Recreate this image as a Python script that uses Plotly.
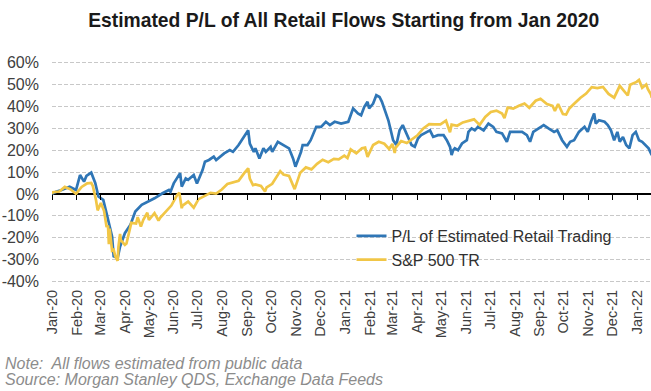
import plotly.graph_objects as go

# ---------------- data (% return since Jan 2020) ----------------
retail_dates = [
    "2020-01-01", "2020-01-06", "2020-01-13", "2020-01-23", "2020-01-31", "2020-02-05", "2020-02-10",
    "2020-02-13", "2020-02-19", "2020-02-24", "2020-02-28", "2020-03-05", "2020-03-09", "2020-03-16",
    "2020-03-18", "2020-03-23", "2020-03-26", "2020-04-01", "2020-04-08", "2020-04-14", "2020-04-22",
    "2020-05-01", "2020-05-08", "2020-05-18", "2020-05-26", "2020-05-28", "2020-06-01", "2020-06-09",
    "2020-06-11", "2020-06-16", "2020-06-19", "2020-06-26", "2020-06-30", "2020-07-07", "2020-07-10",
    "2020-07-15", "2020-07-21", "2020-07-24", "2020-08-03", "2020-08-10", "2020-08-14", "2020-08-21",
    "2020-08-26", "2020-09-02", "2020-09-04", "2020-09-09", "2020-09-11", "2020-09-16", "2020-09-21",
    "2020-09-24", "2020-09-30", "2020-10-02", "2020-10-09", "2020-10-16", "2020-10-23", "2020-10-28",
    "2020-10-31", "2020-11-07", "2020-11-09", "2020-11-15", "2020-11-19", "2020-11-26", "2020-12-02",
    "2020-12-08", "2020-12-13", "2020-12-19", "2020-12-27", "2021-01-05", "2021-01-09", "2021-01-11",
    "2021-01-17", "2021-01-21", "2021-01-25", "2021-01-29", "2021-01-31", "2021-02-05", "2021-02-09",
    "2021-02-13", "2021-02-16", "2021-02-19", "2021-02-24", "2021-02-26", "2021-03-02", "2021-03-06",
    "2021-03-10", "2021-03-14", "2021-03-19", "2021-03-23", "2021-03-25", "2021-03-29", "2021-04-02",
    "2021-04-06", "2021-04-13", "2021-04-17", "2021-04-21", "2021-04-27", "2021-05-04", "2021-05-08",
    "2021-05-12", "2021-05-14", "2021-05-16", "2021-05-18", "2021-05-22", "2021-05-27", "2021-06-02",
    "2021-06-04", "2021-06-08", "2021-06-12", "2021-06-16", "2021-06-23", "2021-06-29", "2021-07-05",
    "2021-07-09", "2021-07-16", "2021-07-22", "2021-07-26", "2021-08-01", "2021-08-10", "2021-08-16",
    "2021-08-20", "2021-08-24", "2021-08-31", "2021-09-06", "2021-09-12", "2021-09-19", "2021-09-23",
    "2021-09-29", "2021-10-05", "2021-10-09", "2021-10-14", "2021-10-20", "2021-10-27", "2021-10-31",
    "2021-11-04", "2021-11-08", "2021-11-10", "2021-11-14", "2021-11-21", "2021-11-25", "2021-11-29",
    "2021-12-03", "2021-12-07", "2021-12-10", "2021-12-14", "2021-12-18", "2021-12-22", "2021-12-26",
    "2021-12-30", "2022-01-03", "2022-01-07", "2022-01-11", "2022-01-15", "2022-01-19",
]
retail_values = [
    0.0, 1.0, 1.8, 3.3, 1.8, 8.6, 5.6,
    8.2, 9.7, 5.0, -1.2, -2.7, -8.6, -19.4,
    -28.5, -29.2, -24.0, -17.9, -14.0, -8.0, -5.0,
    -3.5, -2.0, 0.3, 1.8, 1.0, 4.8, 9.5,
    3.3, 7.1, 6.4, 8.6, 4.8, 10.9, 14.7,
    15.5, 17.0, 15.5, 18.5, 20.0, 19.2, 22.3,
    25.3, 29.0, 23.0, 19.2, 20.8, 16.2, 20.8,
    19.2, 21.5, 19.2, 23.8, 22.3, 20.8, 16.2,
    12.4, 19.2, 22.3, 22.3, 24.5, 30.6, 30.6,
    32.9, 31.4, 32.9, 32.1, 32.9, 37.4, 39.0,
    36.7, 35.9, 39.7, 42.0, 39.0, 41.2, 45.0,
    44.2, 42.0, 39.0, 33.6, 30.6, 24.5, 22.3,
    29.0, 31.4, 27.6, 24.5, 22.3, 21.5, 25.3,
    26.8, 28.3, 29.0, 26.0, 26.8, 26.8, 24.5,
    21.5, 17.7, 20.0, 20.8, 20.0, 23.0, 24.5,
    28.3, 29.9, 29.0, 30.6, 29.0, 32.1, 30.6,
    28.3, 27.6, 23.8, 28.3, 28.3, 28.3, 26.8,
    23.8, 28.3, 29.9, 31.4, 29.9, 28.3, 29.0,
    24.5, 21.5, 23.8, 24.5, 28.3, 30.6, 28.3,
    32.9, 36.7, 32.1, 33.6, 32.9, 31.4, 29.0,
    24.5, 28.3, 23.8, 26.0, 22.3, 20.8, 26.8,
    28.3, 24.5, 23.8, 22.3, 20.8, 17.7,
]

spx_dates = [
    "2020-01-01", "2020-01-02", "2020-01-10", "2020-01-17", "2020-01-24", "2020-01-31", "2020-02-07",
    "2020-02-14", "2020-02-19", "2020-02-21", "2020-02-25", "2020-02-27", "2020-03-02", "2020-03-06",
    "2020-03-09", "2020-03-11", "2020-03-12", "2020-03-13", "2020-03-16", "2020-03-18", "2020-03-20",
    "2020-03-23", "2020-03-24", "2020-03-26", "2020-03-27", "2020-04-01", "2020-04-03", "2020-04-08",
    "2020-04-09", "2020-04-15", "2020-04-17", "2020-04-21", "2020-04-24", "2020-04-29", "2020-05-01",
    "2020-05-08", "2020-05-13", "2020-05-15", "2020-05-22", "2020-05-29", "2020-06-05", "2020-06-08",
    "2020-06-11", "2020-06-12", "2020-06-19", "2020-06-26", "2020-07-02", "2020-07-10", "2020-07-17",
    "2020-07-24", "2020-07-31", "2020-08-07", "2020-08-14", "2020-08-21", "2020-08-28", "2020-09-02",
    "2020-09-04", "2020-09-08", "2020-09-11", "2020-09-18", "2020-09-23", "2020-09-25", "2020-10-02",
    "2020-10-09", "2020-10-12", "2020-10-16", "2020-10-23", "2020-10-30", "2020-11-06", "2020-11-13",
    "2020-11-20", "2020-11-27", "2020-12-04", "2020-12-11", "2020-12-18", "2020-12-24", "2020-12-31",
    "2021-01-04", "2021-01-08", "2021-01-15", "2021-01-22", "2021-01-26", "2021-01-29", "2021-02-05",
    "2021-02-12", "2021-02-19", "2021-02-25", "2021-03-01", "2021-03-04", "2021-03-05", "2021-03-12",
    "2021-03-19", "2021-03-26", "2021-04-01", "2021-04-09", "2021-04-16", "2021-04-23", "2021-04-30",
    "2021-05-07", "2021-05-12", "2021-05-14", "2021-05-21", "2021-05-28", "2021-06-04", "2021-06-11",
    "2021-06-18", "2021-06-25", "2021-07-02", "2021-07-09", "2021-07-16", "2021-07-19", "2021-07-23",
    "2021-07-30", "2021-08-06", "2021-08-13", "2021-08-19", "2021-08-27", "2021-09-02", "2021-09-10",
    "2021-09-17", "2021-09-20", "2021-09-24", "2021-09-30", "2021-10-04", "2021-10-08", "2021-10-15",
    "2021-10-22", "2021-10-29", "2021-11-05", "2021-11-12", "2021-11-19", "2021-11-26", "2021-11-30",
    "2021-12-03", "2021-12-10", "2021-12-17", "2021-12-20", "2021-12-23", "2021-12-31", "2022-01-03",
    "2022-01-07", "2022-01-12", "2022-01-14", "2022-01-18", "2022-01-19",
]
spx_values = [
    0.0, 0.8, 1.1, 3.2, 2.1, 0.0, 3.2,
    4.8, 5.0, 3.6, -2.9, -7.5, -4.1, -7.7,
    -14.7, -14.9, -22.9, -15.8, -25.9, -25.5, -28.4,
    -30.5, -24.0, -18.3, -21.1, -23.2, -22.6, -14.5,
    -13.2, -13.5, -10.6, -14.9, -11.8, -8.6, -11.9,
    -8.8, -12.2, -10.9, -8.0, -5.3, -0.6, 0.6,
    -6.5, -5.3, -3.5, -6.3, -2.4, -0.7, 0.5,
    0.2, 2.0, 4.5, 5.2, 6.0, 9.5, 11.7,
    7.0, 4.0, 4.3, 3.6, 1.1, 3.0, 4.6,
    8.6, 10.4, 8.8, 8.2, 2.2, 9.7, 12.1,
    11.2, 13.7, 15.6, 14.5, 16.0, 15.8, 17.5,
    16.4, 20.3, 18.5, 20.8, 21.1, 16.9, 22.3,
    23.8, 22.9, 20.5, 22.8, 18.7, 21.0, 24.1,
    23.2, 25.2, 26.6, 30.0, 31.8, 31.7, 31.7,
    33.4, 28.1, 31.6, 31.1, 32.6, 33.4, 34.0,
    31.5, 35.1, 37.4, 38.0, 36.7, 34.6, 39.4,
    38.9, 40.2, 41.2, 39.3, 42.5, 43.4, 41.0,
    40.2, 37.9, 41.0, 36.4, 36.2, 39.0, 41.5,
    43.9, 45.8, 48.7, 48.3, 48.8, 45.6, 44.7,
    43.9, 49.3, 46.5, 44.9, 49.8, 51.1, 52.0,
    48.4, 49.9, 47.9, 45.3, 43.9,
]

series_names = ["P/L of Estimated Retail Trading", "S&P 500 TR"]
y_tick_values = [-40, -30, -20, -10, 0, 10, 20, 30, 40, 50, 60]
y_tick_labels = [f"{v}%" for v in y_tick_values]
month_ticks = [f"{y}-{m:02d}-01" for y in (2020, 2021) for m in range(1, 13)] + ["2022-01-01"]
month_names = ["Jan", "Feb", "Mar", "Apr", "May", "Jun", "Jul", "Aug", "Sep", "Oct", "Nov", "Dec"]
month_labels = [f"{month_names[int(d[5:7]) - 1]}-{d[2:4]}" for d in month_ticks]

title_text = "Estimated P/L of All Retail Flows Starting from Jan 2020"
note_text = "Note:  All flows estimated from public data"
source_text = "Source: Morgan Stanley QDS, Exchange Data Feeds"

# ---------------- style ----------------
BLUE = "#2f76b6"
GOLD = "#f1c646"
FONT = "Liberation Sans, Arial, sans-serif"
X_RANGE = ["2020-01-01", "2022-01-18"]
Y_RANGE = [-42, 62]

fig = go.Figure()
fig.add_trace(go.Scatter(x=retail_dates, y=retail_values, mode="lines", name=series_names[0],
                         line=dict(color=BLUE, width=2.7), legendgroup="a"))
fig.add_trace(go.Scatter(x=spx_dates, y=spx_values, mode="lines", name=series_names[1],
                         line=dict(color=GOLD, width=2.7), legendgroup="b"))
# invisible helper trace so the tick-mark axis on the zero line is drawn
fig.add_trace(go.Scatter(x=[X_RANGE[0]], y=[None], xaxis="x2", showlegend=False,
                         hoverinfo="skip", mode="lines"))

zero_pos = (0 - Y_RANGE[0]) / (Y_RANGE[1] - Y_RANGE[0])

fig.update_layout(
    width=651, height=391,
    margin=dict(l=52, r=0, t=58, b=105, autoexpand=False),
    paper_bgcolor="white", plot_bgcolor="white",
    font=dict(family=FONT, color="#404040"),
    showlegend=True,
    legend=dict(x=0.5, y=0.294, xanchor="left", yanchor="top",
                font=dict(size=16, color="#303030", family=FONT),
                bgcolor="rgba(255,255,255,0)", traceorder="grouped", tracegroupgap=0),
    xaxis=dict(type="date", range=X_RANGE, tickvals=month_ticks, ticktext=month_labels,
               tickangle=-90, tickfont=dict(size=14.5, color="#404040"), automargin=False,
               showgrid=False, showline=False, zeroline=False, ticks=""),
    xaxis2=dict(type="date", range=X_RANGE, overlaying="x", anchor="free", position=zero_pos,
                side="bottom", tickvals=month_ticks, showticklabels=False, ticks="outside",
                ticklen=5, tickwidth=1.3, tickcolor="#000000", showgrid=False, automargin=False,
                showline=False, zeroline=False),
    yaxis=dict(range=Y_RANGE, tickvals=y_tick_values, ticktext=y_tick_labels, automargin=False,
               tickfont=dict(size=16, color="#404040"), showgrid=True,
               gridcolor="#c8c8c8", gridwidth=1, griddash="4px,2px",
               zeroline=True, zerolinecolor="#000000", zerolinewidth=1.6,
               showline=False, ticks="", ticklabelstandoff=12),
    title=dict(text=f"<b>{title_text}</b>", x=0.528, xanchor="center", y=0.949, yanchor="middle",
               font=dict(size=19.3, color="#1a1a1a", family=FONT)),
)

fig.add_annotation(text=f"<i>{note_text}</i>", xref="paper", yref="paper", x=-0.0818, y=-0.338,
                   xanchor="left", yanchor="middle", showarrow=False,
                   font=dict(size=16, color="#8c8c8c", family=FONT))
fig.add_annotation(text=f"<i>{source_text}</i>", xref="paper", yref="paper", x=-0.0818, y=-0.412,
                   xanchor="left", yanchor="middle", showarrow=False,
                   font=dict(size=16, color="#8c8c8c", family=FONT))

# remove the browser's default 8px body margin so the figure sits at the window's corner
fig.write_html("out.html", config={"displayModeBar": False},
               post_script=["document.body.style.margin='0px';"])
